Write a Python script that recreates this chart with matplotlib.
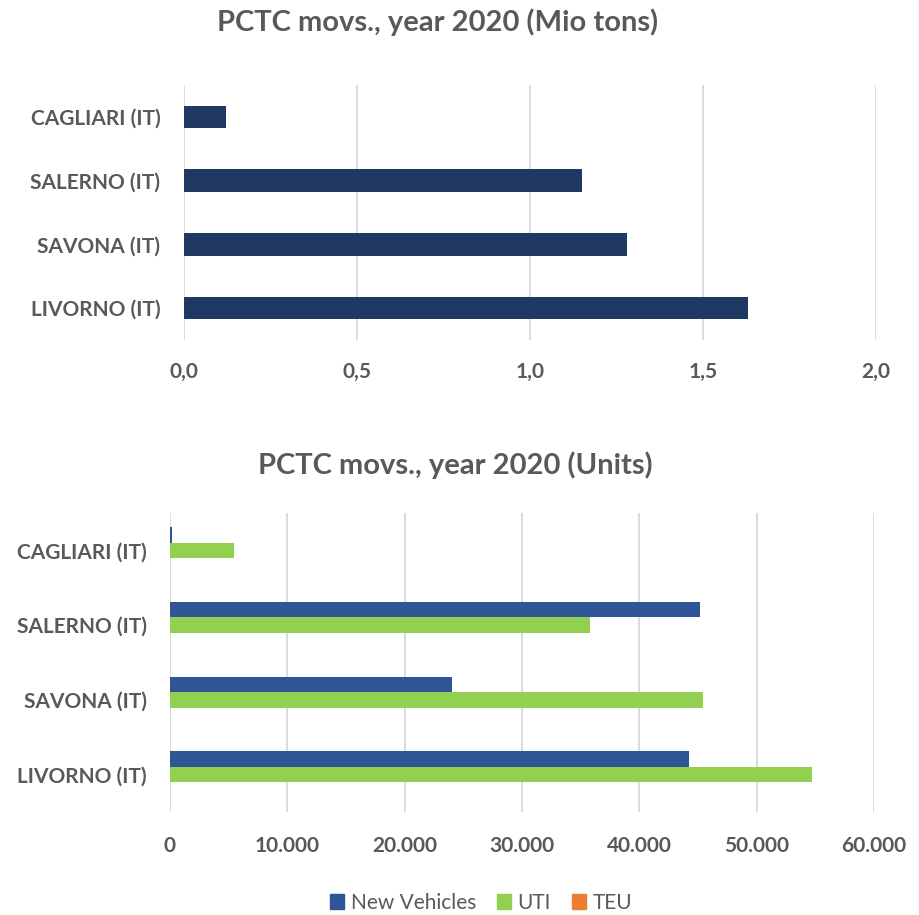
import matplotlib
matplotlib.use("Agg")
import matplotlib.pyplot as plt
from matplotlib.ticker import FuncFormatter, FixedLocator
from matplotlib.patches import Patch

ports = ["CAGLIARI (IT)", "SALERNO (IT)", "SAVONA (IT)", "LIVORNO (IT)"]
tons = [0.12, 1.15, 1.28, 1.63]
new_vehicles = [200, 45200, 24000, 44200]
uti = [5450, 35800, 45400, 54700]
teu = [0, 0, 0, 0]
top_ticks = [0.0, 0.5, 1.0, 1.5, 2.0]
bot_ticks = [0, 10000, 20000, 30000, 40000, 50000, 60000]

plt.rcParams['font.family'] = ['Lato', 'DejaVu Sans']
TXT = '#595959'
GRID = '#D9D9D9'
FS = 15

W, H = 920, 915
fig = plt.figure(figsize=(W/100, H/100), dpi=100)

def ax_rect(l, t, r, b):
    return [l/W, 1 - b/H, (r-l)/W, (b-t)/H]

def style(ax):
    for s in ax.spines.values():
        s.set_visible(False)
    ax.tick_params(axis='both', length=0, colors=TXT)
    ax.grid(axis='x', color=GRID, linewidth=1.3)
    ax.set_axisbelow(True)
    for lab in ax.get_xticklabels() + ax.get_yticklabels():
        lab.set_fontweight('bold')
        lab.set_fontsize(FS)
        lab.set_color(TXT)

# Top chart
ax1 = fig.add_axes(ax_rect(184, 85, 876, 340))
y = list(range(len(ports)))
ax1.barh(y, tons, height=0.35, color='#1F3864')
ax1.set_ylim(len(ports) - 0.5, -0.5)
ax1.set_xlim(0, 2.0)
ax1.xaxis.set_major_locator(FixedLocator(top_ticks))
ax1.xaxis.set_major_formatter(FuncFormatter(lambda v, p: f"{v:.1f}".replace('.', ',')))
ax1.set_yticks(y)
ax1.set_yticklabels(ports)
ax1.tick_params(axis='y', pad=17)
ax1.tick_params(axis='x', pad=16)
style(ax1)
fig.text(438/W, 1 - 22/H, "PCTC movs., year 2020 (Mio tons)", ha='center', va='center',
         fontsize=21, fontweight='bold', color=TXT)

# Bottom chart
ax2 = fig.add_axes(ax_rect(170, 513, 874, 812))
bh = 0.207
yy = list(range(len(ports)))
ax2.barh([v - bh for v in yy], new_vehicles, height=bh, color='#2F5597', label='New Vehicles')
ax2.barh(yy, uti, height=bh, color='#92D050', label='UTI')
ax2.barh([v + bh for v in yy], teu, height=bh, color='#ED7D31', label='TEU')
ax2.set_ylim(len(ports) - 0.5, -0.5)
ax2.set_xlim(0, 60000)
ax2.xaxis.set_major_locator(FixedLocator(bot_ticks))
ax2.xaxis.set_major_formatter(FuncFormatter(lambda v, p: f"{int(v):,}".replace(',', '.')))
ax2.set_yticks(yy)
ax2.set_yticklabels(ports)
ax2.tick_params(axis='y', pad=16.5)
ax2.tick_params(axis='x', pad=17)
style(ax2)
fig.text(455/W, 1 - 465/H, "PCTC movs., year 2020 (Units)", ha='center', va='center',
         fontsize=21, fontweight='bold', color=TXT)

handles = [Patch(color='#2F5597', label='New Vehicles'),
           Patch(color='#92D050', label='UTI'),
           Patch(color='#ED7D31', label='TEU')]
leg = fig.legend(handles=handles, loc='center', bbox_to_anchor=(481/W, 1 - 903/H), ncol=3,
                 frameon=False, handlelength=0.7, handleheight=0.7, handletextpad=0.3,
                 columnspacing=1.0, fontsize=15)
for t in leg.get_texts():
    t.set_color(TXT)

fig.savefig("out.png", dpi=100)
